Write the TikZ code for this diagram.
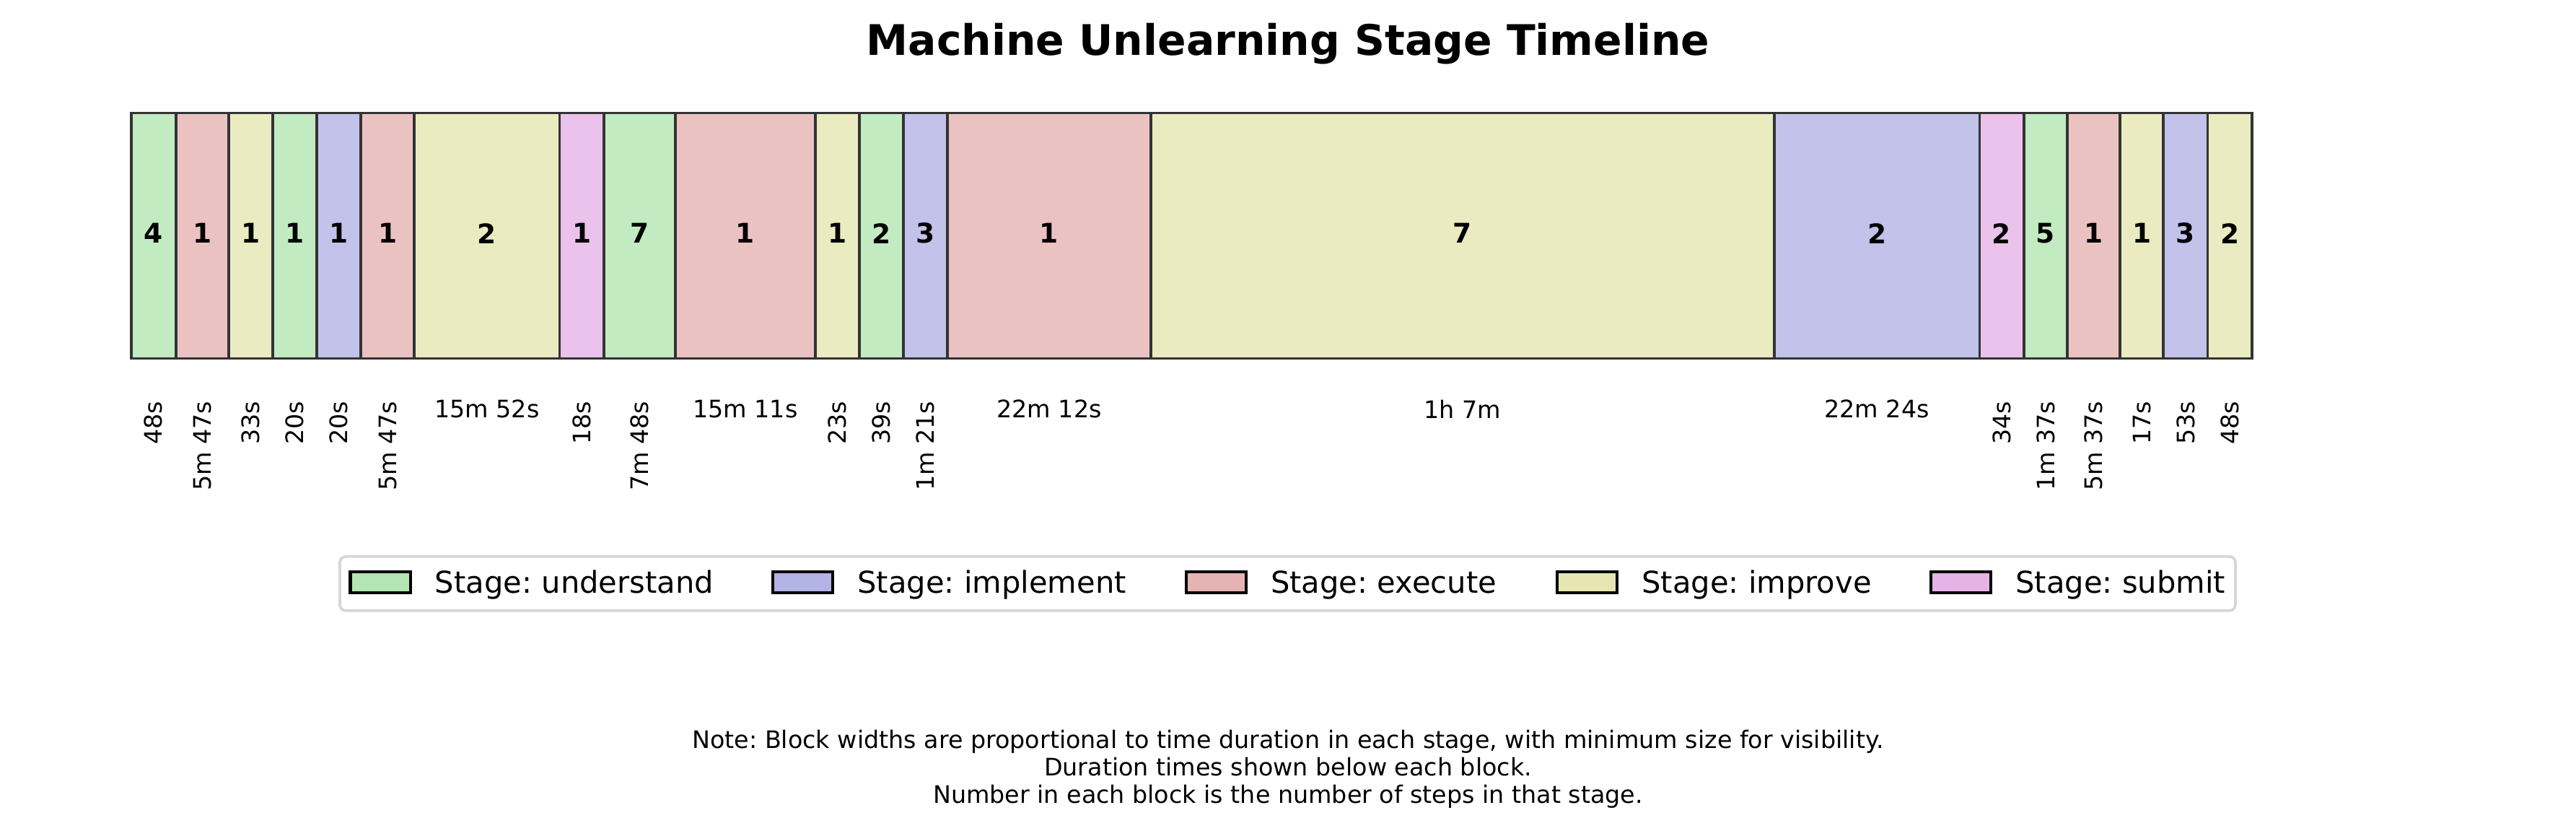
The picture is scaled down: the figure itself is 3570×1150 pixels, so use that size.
\documentclass[tikz,border=0pt]{standalone}
\usepackage{fontspec}
\setmainfont{DejaVu Sans}
\frenchspacing
\definecolor{und}{HTML}{C2EBC2}
\definecolor{imp}{HTML}{C2C2EB}
\definecolor{exe}{HTML}{EBC2C2}
\definecolor{imv}{HTML}{EBEBC2}
\definecolor{sub}{HTML}{EBC2EB}
\definecolor{undL}{HTML}{B3E6B3}
\definecolor{impL}{HTML}{B3B3E6}
\definecolor{exeL}{HTML}{E6B3B3}
\definecolor{imvL}{HTML}{E6E6B3}
\definecolor{subL}{HTML}{E6B3E6}
\definecolor{edgegray}{HTML}{333333}
\definecolor{framegray}{HTML}{D6D6D6}
\tikzset{
  block/.style={draw=edgegray, line width=0.9pt, rectangle, inner sep=0pt, outer sep=0pt},
  stepnum/.style={inner sep=0pt, font=\bfseries\fontsize{9pt}{10.8pt}\selectfont},
  durh/.style={inner sep=0pt, anchor=north, font=\fontsize{8pt}{9.6pt}\selectfont},
  durv/.style={inner sep=0pt, anchor=east, rotate=90, font=\fontsize{8pt}{9.6pt}\selectfont},
  titletext/.style={inner sep=0pt, anchor=base, font=\bfseries\fontsize{14pt}{16.8pt}\selectfont},
  notetext/.style={inner sep=0pt, anchor=base, font=\fontsize{8pt}{9.6pt}\selectfont},
  legframe/.style={draw=framegray, fill=white, line width=0.9pt, rounded corners=2pt, inner sep=0pt,
    minimum width=630.5pt, minimum height=18pt},
  lpatch/.style={draw=black, line width=1pt, inner sep=0pt, minimum width=20pt, minimum height=7pt},
  legtext/.style={inner sep=0pt, anchor=base west, font=\fontsize{10pt}{12pt}\selectfont}
}
\begin{document}
\begin{tikzpicture}[x=0.24pt,y=-0.24pt]
\useasboundingbox (0,0) rectangle (3570,1150);
\node[titletext] (title) at (1785,76.5) {Machine Unlearning Stage Timeline};
\foreach \xa/\xb/\col/\stp/\dur/\rot [count=\i] in {
  182.0/243.7/und/4/48s/1,
  243.7/317.1/exe/1/5m 47s/1,
  317.1/377.7/imv/1/33s/1,
  377.7/438.9/und/1/20s/1,
  438.9/500.1/imp/1/20s/1,
  500.1/574.1/exe/1/5m 47s/1,
  574.1/775.6/imv/2/15m 52s/0,
  775.6/836.9/sub/1/18s/1,
  836.9/935.7/und/7/7m 48s/1,
  935.7/1130.1/exe/1/15m 11s/0,
  1130.1/1190.7/imv/1/23s/1,
  1190.7/1251.9/und/2/39s/1,
  1251.9/1312.8/imp/3/1m 21s/1,
  1312.8/1595.2/exe/1/22m 12s/0,
  1595.2/2458.8/imv/7/1h 7m/0,
  2458.8/2743.4/imp/2/22m 24s/0,
  2743.4/2804.6/sub/2/34s/1,
  2804.6/2865.3/und/5/1m 37s/1,
  2865.3/2938.0/exe/1/5m 37s/1,
  2938.0/2998.3/imv/1/17s/1,
  2998.3/3059.5/imp/3/53s/1,
  3059.5/3120.7/imv/2/48s/1}{
  \node[block, fill=\col, minimum width={(\xb-\xa)*0.24pt}, minimum height={340*0.24pt}] (b\i) at ({(\xa+\xb)/2},326.5) {};
  \node[stepnum] (s\i) at ({(\xa+\xb)/2},323.3) {\stp};
  \ifnum\rot=1
    \node[durv] (d\i) at ({(\xa+\xb)/2},555) {\dur};
  \else
    \node[durh] (d\i) at ({(\xa+\xb)/2},553) {\dur};
  \fi
}
\node[legframe] (legend) at (1784.5,808.3) {};
\foreach \lx/\col/\txt [count=\j] in {
  485.5/undL/understand,
  1071.0/impL/implement,
  1643.6/exeL/execute,
  2158.0/imvL/improve,
  2676.0/subL/submit}{
  \node[lpatch, fill=\col] (lp\j) at ({\lx+41.65},806.3) {};
  \node[legtext] (lt\j) at ({\lx+116.6},821) {Stage: \txt};
}
\node[notetext] (note1) at (1785,1036) {Note: Block widths are proportional to time duration in each stage, with minimum size for visibility.};
\node[notetext] (note2) at (1785,1074.3) {Duration times shown below each block.};
\node[notetext] (note3) at (1785,1112.6) {Number in each block is the number of steps in that stage.};
\end{tikzpicture}
\end{document}
